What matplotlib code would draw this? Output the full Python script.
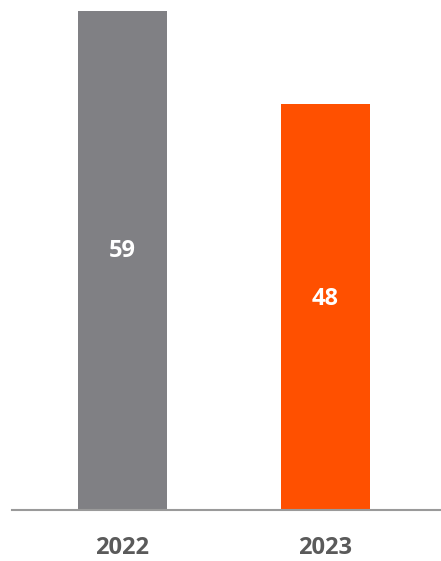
import matplotlib.pyplot as plt

years = ["2022", "2023"]
values = [59, 48]
colors = ["#808084", "#ff5000"]

plt.rcParams['font.family'] = ['Open Sans', 'DejaVu Sans']

fig = plt.figure(figsize=(4.41, 5.61), dpi=100)
# axes placed so the baseline and bar tops line up with the reference
ax = fig.add_axes([12 / 441, 51 / 561, 429 / 441, 499 / 561])

x = range(len(years))
ax.bar(x, values, width=0.438, color=colors)

for xi, v in zip(x, values):
    ax.text(xi, v * 0.52, str(v), ha="center", va="center",
            color="white", fontsize=17, fontweight="bold")

ax.set_xlim(-0.544, 1.569)
ax.set_ylim(0, 59)
ax.set_xticks(list(x))
ax.set_xticklabels(years, fontsize=17, fontweight="bold", color="#5a5a5a")
ax.tick_params(axis="x", length=0, pad=19)
ax.set_yticks([])

for side in ["top", "right", "left"]:
    ax.spines[side].set_visible(False)
ax.spines["bottom"].set_color("#9a9a9a")
ax.spines["bottom"].set_linewidth(1.5)

fig.savefig("out.png", dpi=100)
